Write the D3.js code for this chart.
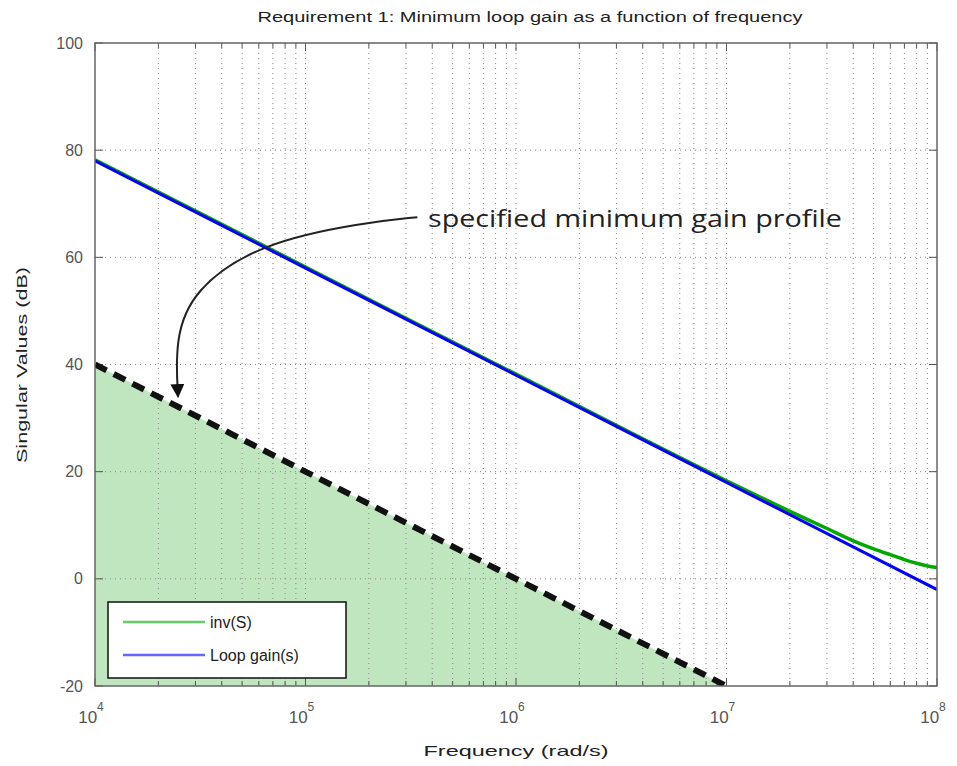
<!DOCTYPE html>
<html><head><meta charset="utf-8">
<script src="https://cdn.jsdelivr.net/npm/d3@7"></script>
<style>body{margin:0;background:#fff;} svg{display:block;}</style>
</head><body>
<svg id="chart" width="957" height="766"></svg>
<script>
// ---- data ----
const loopFreq = [1e4, 1e5, 1e6, 1e7, 1e8];
const loopGain = [78, 58, 38, 18, -2];
const invSFreq = [1e4, 1e5, 1e6, 1e7, 2e7, 3e7, 4e7, 5e7, 6e7, 7e7, 8e7, 9e7, 1e8];
const invSGain = [78.2, 58.2, 38.2, 18.3, 12.6, 9.4, 7.1, 5.6, 4.5, 3.6, 2.9, 2.4, 2.1];
const specFreq = [1e4, 1e7];
const specGain = [40, -20];
const yTicks = [-20, 0, 20, 40, 60, 80, 100];
const xMajor = [4, 5, 6, 7, 8];
const arrowFreq = [3.4e5, 1.9e5, 6.1e4, 2.9e4, 2.4e4, 2.48e4];
const arrowGain = [67.5, 66.5, 62.7, 53.9, 44.6, 34];
const titleText = "Requirement 1: Minimum loop gain as a function of frequency";
const annoText = "specified minimum gain profile";
const legendNames = ["inv(S)", "Loop gain(s)"];

// ---- layout ----
const L = 95, R = 937, T = 43, B = 686;
const svg = d3.select("#chart");
const x = d3.scaleLog().domain([1e4, 1e8]).range([L, R]);
const y = d3.scaleLinear().domain([-20, 100]).range([B, T]);

const defs = svg.append("defs");
defs.append("clipPath").attr("id", "clip").append("rect")
  .attr("x", L).attr("y", T).attr("width", R - L).attr("height", B - T);
defs.append("marker").attr("id", "ah").attr("viewBox", "0 0 10 10")
  .attr("refX", 9).attr("refY", 5).attr("markerWidth", 7).attr("markerHeight", 7)
  .attr("markerUnits", "strokeWidth").attr("orient", "auto")
  .append("path").attr("d", "M0,0 L10,5 L0,10 Z").attr("fill", "#111");

// fill under spec
const area = d3.area().x((d, i) => x(specFreq[i])).y0(B).y1((d, i) => y(specGain[i]));
svg.append("path").datum(specGain).attr("d", area).attr("fill", "#c0e6c0").attr("clip-path", "url(#clip)");

// grid
const minor = [];
for (let e = 4; e < 8; e++) for (let k = 1; k <= 9; k++) minor.push(k * Math.pow(10, e));
minor.push(1e8);
const grid = svg.append("g").attr("stroke", "#888").attr("stroke-width", 1).attr("stroke-dasharray", "1,4");
grid.selectAll("line.vx").data(minor.filter(v => v > 1e4 && v < 1e8)).join("line")
  .attr("x1", d => x(d)).attr("x2", d => x(d)).attr("y1", T).attr("y2", B);
grid.selectAll("line.hy").data(yTicks.filter(v => v > -20 && v < 100)).join("line")
  .attr("x1", L).attr("x2", R).attr("y1", d => y(d)).attr("y2", d => y(d));

// ticks inside
const tk = svg.append("g").attr("stroke", "#555").attr("stroke-width", 1);
minor.forEach(v => {
  const len = Number.isInteger(Math.log10(v)) ? 8 : 5;
  tk.append("line").attr("x1", x(v)).attr("x2", x(v)).attr("y1", B).attr("y2", B - len);
  tk.append("line").attr("x1", x(v)).attr("x2", x(v)).attr("y1", T).attr("y2", T + len);
});
yTicks.forEach(v => {
  tk.append("line").attr("x1", L).attr("x2", L + 8).attr("y1", y(v)).attr("y2", y(v));
  tk.append("line").attr("x1", R).attr("x2", R - 8).attr("y1", y(v)).attr("y2", y(v));
});

// lines
const lineGen = (fx) => d3.line().x((d, i) => x(fx[i])).y(d => y(d)).curve(d3.curveMonotoneX);
const g = svg.append("g").attr("clip-path", "url(#clip)");
g.append("path").datum(invSGain).attr("d", lineGen(invSFreq)).attr("fill", "none")
  .attr("stroke", "#00a800").attr("stroke-width", 3.5);
g.append("path").datum(loopGain).attr("d", lineGen(loopFreq)).attr("fill", "none")
  .attr("stroke", "#0000ff").attr("stroke-width", 3);
g.append("path").datum(specGain).attr("d", lineGen(specFreq)).attr("fill", "none")
  .attr("stroke", "#111").attr("stroke-width", 6).attr("stroke-dasharray", "13,8");

// frame
svg.append("rect").attr("x", L).attr("y", T).attr("width", R - L).attr("height", B - T)
  .attr("fill", "none").attr("stroke", "#666").attr("stroke-width", 1.5);

// y labels
svg.append("g").selectAll("text").data(yTicks).join("text")
  .attr("x", L - 12).attr("y", d => y(d)).attr("dy", "0.35em").attr("text-anchor", "end")
  .attr("font-family", "Liberation Sans, Arial, sans-serif").attr("font-size", 16).attr("fill", "#555")
  .text(d => d);

// x labels
const xl = svg.append("g").attr("font-family", "Liberation Sans, Arial, sans-serif").attr("fill", "#555");
xMajor.forEach(e => {
  const t = xl.append("text").attr("x", x(Math.pow(10, e)) - 4).attr("y", 723).attr("text-anchor", "middle")
    .attr("font-size", 17);
  t.append("tspan").text("10");
  t.append("tspan").attr("dy", -12).attr("font-size", 12).text(e);
});

// titles
svg.append("text").attr("x", 530).attr("y", 22).attr("text-anchor", "middle")
  .attr("font-family", "Liberation Sans, Arial, sans-serif").attr("font-size", 14).attr("fill", "#222")
  .attr("textLength", 545).attr("lengthAdjust", "spacingAndGlyphs").text(titleText);
svg.append("text").attr("x", 516).attr("y", 756).attr("text-anchor", "middle")
  .attr("font-family", "Liberation Sans, Arial, sans-serif").attr("font-size", 15).attr("fill", "#222")
  .attr("textLength", 185).attr("lengthAdjust", "spacingAndGlyphs").text("Frequency (rad/s)");
svg.append("text").attr("transform", "translate(27,365) rotate(-90)").attr("text-anchor", "middle")
  .attr("font-family", "Liberation Sans, Arial, sans-serif").attr("font-size", 15).attr("fill", "#222")
  .attr("textLength", 196).attr("lengthAdjust", "spacingAndGlyphs").text("Singular Values (dB)");

// annotation
svg.append("path").datum(arrowGain)
  .attr("d", d3.line().x((d, i) => x(arrowFreq[i])).y(d => y(d)).curve(d3.curveBasis))
  .attr("fill", "none").attr("stroke", "#222").attr("stroke-width", 2).attr("marker-end", "url(#ah)");
svg.append("text").attr("x", 428).attr("y", 227)
  .attr("font-family", "Open Sans, sans-serif").attr("font-size", 23).attr("fill", "#222")
  .attr("textLength", 414).attr("lengthAdjust", "spacingAndGlyphs").text(annoText);

// legend
const lg = svg.append("g");
lg.append("rect").attr("x", 108).attr("y", 602).attr("width", 238).attr("height", 76)
  .attr("fill", "#fff").attr("stroke", "#111").attr("stroke-width", 1.5);
const lcol = ["#6c6", "#66f"];
legendNames.forEach((n, i) => {
  const yy = 622 + i * 33;
  lg.append("line").attr("x1", 123).attr("x2", 205).attr("y1", yy).attr("y2", yy)
    .attr("stroke", lcol[i]).attr("stroke-width", 2.5);
  lg.append("text").attr("x", 210).attr("y", yy).attr("dy", "0.35em")
    .attr("font-family", "Liberation Sans, Arial, sans-serif").attr("font-size", 16).attr("fill", "#222").text(n);
});
</script>
</body></html>
